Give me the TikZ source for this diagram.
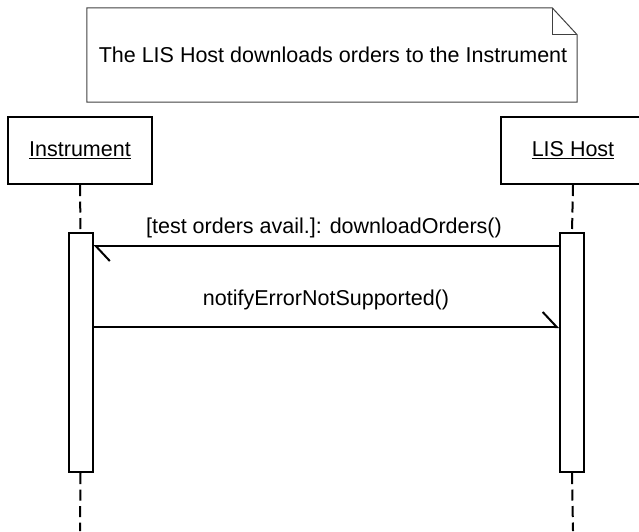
\documentclass[tikz,border=0pt]{standalone}
\usepackage{fontspec}
\setmainfont{Liberation Sans}
\usetikzlibrary{arrows.meta,calc}
\begin{document}
\begin{tikzpicture}[x=1pt,y=-1pt,
  txt/.style={font=\fontsize{21.5}{26}\selectfont, inner sep=0pt},
  partbox/.style={draw, line width=2pt, minimum width=144pt, minimum height=67pt, inner sep=0pt, font=\fontsize{21.5}{26}\selectfont},
  actbox/.style={draw, fill=white, line width=2pt, minimum width=24pt, minimum height=239pt, inner sep=0pt},
  lifeline/.style={line width=2pt, dash pattern=on 11pt off 5.5pt},
  msg/.style={line width=2pt, -{Straight Barb[harpoon, length=14pt, width=30pt, line width=2pt]}},
  notebox/.style={draw=black!75, line width=1pt}]
\useasboundingbox (0,0) rectangle (639,531);
\clip (0,0) rectangle (639,531);
% note
\node[txt, minimum width=490pt, minimum height=94pt] (note) at (332,55) {};
\draw[notebox] (note.north west) -- ($(note.north east)+(-25,0)$) -- ($(note.north east)+(0,27)$) -- (note.south east) -- (note.south west) -- cycle;
\draw[notebox] ($(note.north east)+(-25,0)$) |- ($(note.north east)+(0,27)$);
\node[txt] (notetext) at (333,55) {The LIS Host downloads orders to the Instrument};
% participants
\node[partbox] (inst) at (80,150.5) {\underline{Instrument}};
\node[partbox] (host) at (573,150.5) {\underline{LIS Host}};
% activations
\node[actbox] (instact) at (80.5,352.5) {};
\node[actbox] (hostact) at (572,352.5) {};
\coordinate (instend) at (80,531);
\coordinate (hostend) at (573,531);
\draw[lifeline] (inst.south) -- (instact.north);
\draw[lifeline] (host.south) -- (hostact.north);
\draw[lifeline] (instact.south) -- (instend);
\draw[lifeline] (hostact.south) -- (hostend);
% messages
\coordinate (m1) at (0,246);
\coordinate (m2) at (0,327);
\draw[msg] (hostact.west |- m1) -- (instact.east |- m1);
\draw[msg] (instact.east |- m2) -- (hostact.west |- m2);
\node[txt] (l1) at (324,228) {[test orders avail.]: downloadOrders()};
\node[txt] (l2) at (326,300) {notifyErrorNotSupported()};
\end{tikzpicture}
\end{document}
